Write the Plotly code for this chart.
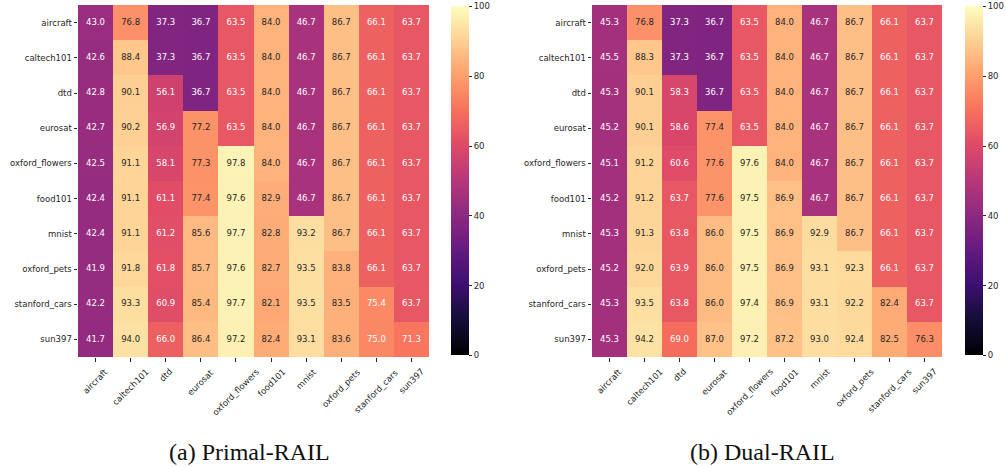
import plotly.graph_objects as go
from plotly.colors import sample_colorscale, unlabel_rgb

# Datasets (rows: evaluation stage, columns: evaluated dataset)
datasets = ["aircraft", "caltech101", "dtd", "eurosat", "oxford_flowers",
            "food101", "mnist", "oxford_pets", "stanford_cars", "sun397"]

primal_rail = [
    [43.0, 76.8, 37.3, 36.7, 63.5, 84.0, 46.7, 86.7, 66.1, 63.7],
    [42.6, 88.4, 37.3, 36.7, 63.5, 84.0, 46.7, 86.7, 66.1, 63.7],
    [42.8, 90.1, 56.1, 36.7, 63.5, 84.0, 46.7, 86.7, 66.1, 63.7],
    [42.7, 90.2, 56.9, 77.2, 63.5, 84.0, 46.7, 86.7, 66.1, 63.7],
    [42.5, 91.1, 58.1, 77.3, 97.8, 84.0, 46.7, 86.7, 66.1, 63.7],
    [42.4, 91.1, 61.1, 77.4, 97.6, 82.9, 46.7, 86.7, 66.1, 63.7],
    [42.4, 91.1, 61.2, 85.6, 97.7, 82.8, 93.2, 86.7, 66.1, 63.7],
    [41.9, 91.8, 61.8, 85.7, 97.6, 82.7, 93.5, 83.8, 66.1, 63.7],
    [42.2, 93.3, 60.9, 85.4, 97.7, 82.1, 93.5, 83.5, 75.4, 63.7],
    [41.7, 94.0, 66.0, 86.4, 97.2, 82.4, 93.1, 83.6, 75.0, 71.3],
]

dual_rail = [
    [45.3, 76.8, 37.3, 36.7, 63.5, 84.0, 46.7, 86.7, 66.1, 63.7],
    [45.5, 88.3, 37.3, 36.7, 63.5, 84.0, 46.7, 86.7, 66.1, 63.7],
    [45.3, 90.1, 58.3, 36.7, 63.5, 84.0, 46.7, 86.7, 66.1, 63.7],
    [45.2, 90.1, 58.6, 77.4, 63.5, 84.0, 46.7, 86.7, 66.1, 63.7],
    [45.1, 91.2, 60.6, 77.6, 97.6, 84.0, 46.7, 86.7, 66.1, 63.7],
    [45.2, 91.2, 63.7, 77.6, 97.5, 86.9, 46.7, 86.7, 66.1, 63.7],
    [45.3, 91.3, 63.8, 86.0, 97.5, 86.9, 92.9, 86.7, 66.1, 63.7],
    [45.2, 92.0, 63.9, 86.0, 97.5, 86.9, 93.1, 92.3, 66.1, 63.7],
    [45.3, 93.5, 63.8, 86.0, 97.4, 86.9, 93.1, 92.2, 82.4, 63.7],
    [45.3, 94.2, 69.0, 87.0, 97.2, 87.2, 93.0, 92.4, 82.5, 76.3],
]

colorbar_ticks = [0, 20, 40, 60, 80, 100]
captions = ["(a) Primal-RAIL", "(b) Dual-RAIL"]

# matplotlib "magma" colormap stops
magma = ["#000004", "#140e36", "#3b0f70", "#641a80", "#8c2981", "#b73779",
         "#de4968", "#f7705c", "#fe9f6d", "#fecf92", "#fcfdbf"]
magma_scale = [[i / (len(magma) - 1), c] for i, c in enumerate(magma)]

W, H = 1006, 467
FONT = "DejaVu Sans"
TXT = "#262626"


def px_x(x):
    return x / W


def px_y(y):
    return 1 - y / H


def text_color(v):
    rgb = unlabel_rgb(sample_colorscale(magma_scale, [v / 100])[0])
    lin = []
    for c in rgb:
        c = c / 255
        lin.append(c / 12.92 if c <= 0.03928 else ((c + 0.055) / 1.055) ** 2.4)
    lum = 0.2126 * lin[0] + 0.7152 * lin[1] + 0.0722 * lin[2]
    return TXT if lum > 0.408 else "white"


panels = [
    dict(z=primal_rail, x0=78, x1=429, cb_x=451, cap_x=249, xa="x", ya="y"),
    dict(z=dual_rail, x0=592, x1=942, cb_x=965, cap_x=762.5, xa="x2", ya="y2"),
]
top_px, bot_px = 5, 357

fig = go.Figure()
annotations = []
layout_axes = {}

for i, p in enumerate(panels):
    z = p["z"]
    fig.add_trace(go.Heatmap(
        z=z, x=datasets, y=datasets, xaxis=p["xa"], yaxis=p["ya"],
        colorscale=magma_scale, zmin=0, zmax=100, hoverinfo="skip",
        colorbar=dict(
            x=px_x(p["cb_x"]), xanchor="left", xpad=0, ypad=0,
            y=px_y(6.5), yanchor="top", lenmode="pixels", len=348.5,
            thickness=18, outlinewidth=0, tickvals=colorbar_ticks,
            ticks="outside", ticklen=3.5, tickwidth=0.8, tickcolor=TXT,
            tickfont=dict(family=FONT, size=8.5, color=TXT),
        ),
    ))
    xs, ys, txt, cols = [], [], [], []
    for r, row in enumerate(z):
        for c, v in enumerate(row):
            xs.append(datasets[c])
            ys.append(datasets[r])
            txt.append(f"{v:.1f}")
            cols.append(text_color(v))
    fig.add_trace(go.Scatter(
        x=xs, y=ys, text=txt, mode="text", xaxis=p["xa"], yaxis=p["ya"],
        textfont=dict(family=FONT, size=8.5, color=cols),
        hoverinfo="skip", showlegend=False,
    ))

    suffix = "" if i == 0 else str(i + 1)
    layout_axes["xaxis" + suffix] = dict(
        domain=[px_x(p["x0"]), px_x(p["x1"])], anchor=p["ya"],
        showgrid=False, zeroline=False, showline=False,
        ticks="outside", ticklen=3.5, tickwidth=0.8, tickcolor=TXT,
        showticklabels=False, type="category",
        categoryorder="array", categoryarray=datasets,
    )
    layout_axes["yaxis" + suffix] = dict(
        domain=[px_y(bot_px), px_y(top_px)], anchor=p["xa"],
        showgrid=False, zeroline=False, showline=False,
        ticks="outside", ticklen=3.5, tickwidth=0.8, tickcolor=TXT,
        tickfont=dict(family=FONT, size=8.5, color=TXT),
        type="category", autorange="reversed",
        categoryorder="array", categoryarray=datasets,
    )
    # rotated x tick labels, centred under each tick
    for name in datasets:
        annotations.append(dict(
            x=name, xref=p["xa"], y=px_y(bot_px + 7), yref="paper",
            text=name, textangle=-45, showarrow=False,
            xanchor="center", yanchor="top",
            font=dict(family=FONT, size=8.5, color=TXT),
        ))
    annotations.append(dict(
        x=px_x(p["cap_x"]), xref="paper",
        y=px_y(452), yref="paper", text=captions[i], showarrow=False,
        xanchor="center", yanchor="middle",
        font=dict(family="Liberation Serif", size=24, color="#111"),
    ))

fig.update_layout(
    width=W, height=H, margin=dict(l=0, r=0, t=0, b=0),
    paper_bgcolor="white", plot_bgcolor="white",
    annotations=annotations, showlegend=False, **layout_axes,
)

fig.write_html("out.html")
